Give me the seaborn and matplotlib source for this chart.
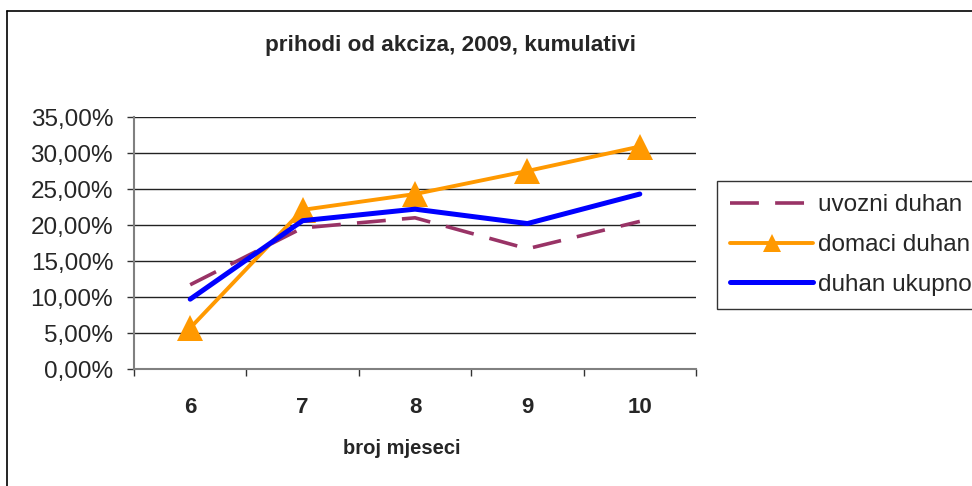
import matplotlib
matplotlib.use("Agg")
import matplotlib.pyplot as plt
import seaborn as sns
import numpy as np
from matplotlib.ticker import FuncFormatter, FixedLocator
from matplotlib.lines import Line2D

months = [6, 7, 8, 9, 10]
uvozni = [11.7, 19.6, 21.0, 16.7, 20.5]
domaci = [5.7, 22.1, 24.3, 27.5, 30.9]
ukupno = [9.7, 20.6, 22.2, 20.2, 24.3]
labels = ["uvozni duhan", "domaci duhan", "duhan ukupno"]
title = "prihodi od akciza, 2009, kumulativi"
xlabel = "broj mjeseci"

sns.set_style("white")
plt.rcParams['font.family'] = ['Liberation Sans', 'DejaVu Sans']

fig = plt.figure(figsize=(9.72, 4.86), dpi=100)
ax = fig.add_axes([134/972, 1-369/486, (696-134)/972, (369-117)/486])

sns.lineplot(x=months, y=uvozni, ax=ax, color="#993366", lw=2.6,
             label=labels[0])
ax.lines[-1].set_dashes([8, 4.5])
sns.lineplot(x=months, y=domaci, ax=ax, color="#FF9900", lw=2.8,
             marker="^", markersize=19, markeredgewidth=0, label=labels[1])
sns.lineplot(x=months, y=ukupno, ax=ax, color="#0000FF", lw=3.6,
             label=labels[2], solid_capstyle="round")

ax.set_xlim(5.5, 10.5)
ax.set_ylim(0, 35)
ax.set_yticks(np.arange(0, 36, 5))
ax.yaxis.set_major_formatter(FuncFormatter(lambda v, p: f"{v:.2f}".replace(".", ",") + "%"))
ax.set_xticks(months)
ax.set_xticklabels([str(m) for m in months], fontweight="bold", fontsize=16)
ax.xaxis.set_minor_locator(FixedLocator([5.5, 6.5, 7.5, 8.5, 9.5, 10.5]))
ax.tick_params(axis="x", which="major", length=0, pad=20)
ax.tick_params(axis="x", which="minor", length=5, width=1, color="#333333", direction="out", bottom=True)
ax.tick_params(axis="y", length=5, width=1, color="#333333", direction="out", left=True, labelsize=17.5, pad=10)
ax.grid(axis="y", color="#222222", lw=1)
ax.grid(axis="x", visible=False)
for s in ["top", "right"]:
    ax.spines[s].set_visible(False)
for s in ["left", "bottom"]:
    ax.spines[s].set_color("#808080")
    ax.spines[s].set_linewidth(1.5)
ax.set_xlabel("")
ax.set_ylabel("")
fig.text(450/972, 1-45/486, title, fontweight="bold", fontsize=16.2, ha="center", va="center")
fig.text(402/972, 1-448/486, xlabel, fontweight="bold", fontsize=14.5, ha="center", va="center")

handles, labs = ax.get_legend_handles_labels()
ax.get_legend().remove()
leg = fig.legend(handles, labs, loc="upper left", bbox_to_anchor=(717/972, 1-181/486),
                 frameon=True, fancybox=False, edgecolor="black", fontsize=17.5,
                 handlelength=3.4, handletextpad=0.2, borderpad=0.55, labelspacing=0.73,
                 borderaxespad=0)
leg.get_frame().set_linewidth(1)
for h in leg.legend_handles:
    h.set_markersize(13)

fig.add_artist(Line2D([6.5/972, 6.5/972], [0, 1-11.5/486], color="black", lw=1.2, transform=fig.transFigure))
fig.add_artist(Line2D([6.5/972, 1], [1-11.5/486, 1-11.5/486], color="black", lw=1.2, transform=fig.transFigure))

fig.savefig("out.png", dpi=100)
